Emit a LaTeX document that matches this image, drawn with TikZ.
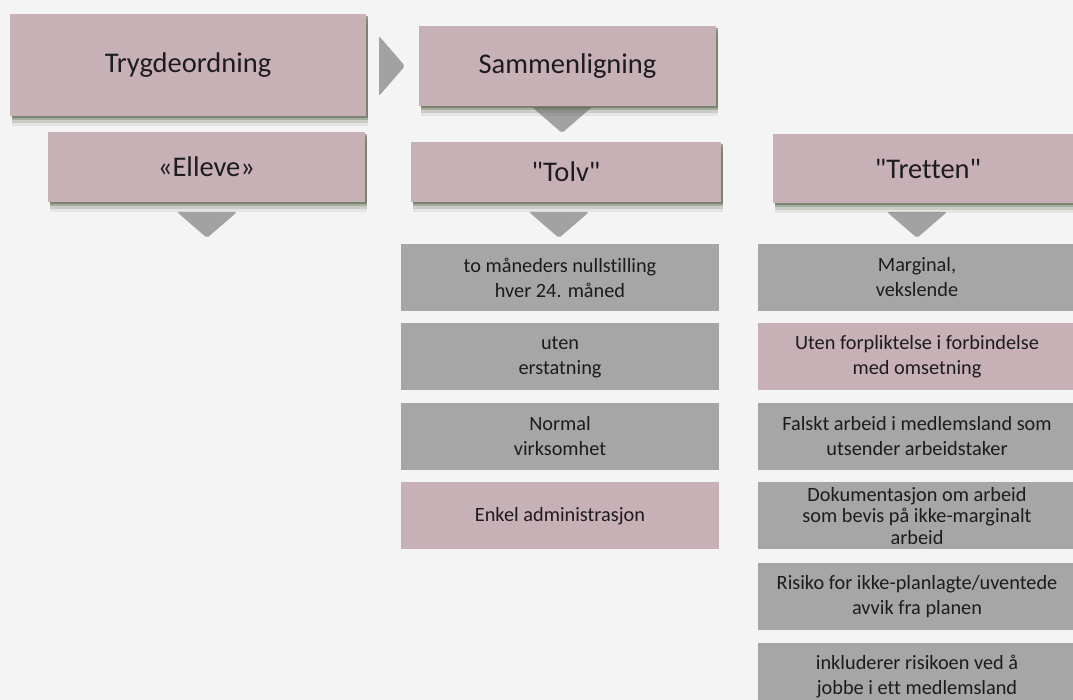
\documentclass[tikz,border=0pt]{standalone}
\usepackage{fontspec}
\setmainfont{Carlito}[Ligatures=NoCommon]
\usepackage{tikz}
\usetikzlibrary{shapes, positioning, calc, shadows}

\definecolor{rosa}{HTML}{C8B0B7}
\definecolor{graa}{HTML}{A6A6A6}
\definecolor{pilgraa}{HTML}{A2A2A2}
\definecolor{bakgrunn}{HTML}{F4F4F4}
\definecolor{tekst}{HTML}{1C1C1C}
\definecolor{skygge}{HTML}{56654A}

\tikzset{
  hode/.style={fill=rosa, text=tekst, inner sep=0pt,
    font=\fontsize{28.5}{34}\selectfont,
    general shadow={shadow xshift=2pt, shadow yshift=-10pt, fill=skygge, opacity=.1, rounded corners=7pt},
    general shadow={shadow xshift=2pt, shadow yshift=-7pt, fill=skygge, opacity=.18, rounded corners=5pt},
    general shadow={shadow xshift=2pt, shadow yshift=-4.5pt, fill=skygge, opacity=.3, rounded corners=3pt},
    general shadow={shadow xshift=1.5pt, shadow yshift=-2pt, fill=skygge, opacity=.55}},
  punkt/.style={fill=graa, text=tekst, align=center, inner sep=0pt,
    minimum width=318pt, minimum height=67pt,
    font=\fontsize{20.3}{25}\selectfont},
  punktrosa/.style={punkt, fill=rosa},
  pilned/.pic={\fill[pilgraa, rounded corners=2pt] (-30,0) -- (30,0) -- (0,26) -- cycle;},
  pilhoyre/.pic={\fill[pilgraa, rounded corners=2pt] (0,-30) -- (0,30) -- (26,0) -- cycle;}
}

\begin{document}
\begin{tikzpicture}[x=1pt, y=-1pt]
    % Background
    \clip (0,0) rectangle (1073,700);
    \fill[bakgrunn] (0,0) rectangle (1073,700);

    % Arrows
    \pic at (379,66) {pilhoyre};
    \pic at (562,107) {pilned};
    \pic at (207,212) {pilned};
    \pic at (559,212) {pilned};
    \pic at (917,212) {pilned};

    % Header boxes
    \node[hode, minimum width=356pt, minimum height=102pt] (trygd) at (188,65) {Trygdeordning};
    \node[hode, minimum width=297pt, minimum height=80pt] (sammen) at (567.5,66) {Sammenligning};
    \node[hode, minimum width=317pt, minimum height=70pt] (elleve) at (206.5,167) {«Elleve»};
    \node[hode, minimum width=310pt, minimum height=60pt] (tolv) at (566,172) {\textquotedbl Tolv\textquotedbl};
    \node[hode, minimum width=310pt, minimum height=69pt] (tretten) at (928,168.5) {\textquotedbl Tretten\textquotedbl};

    % Column "Tolv"
    \node[punkt] (tolv1) at (560,277.5) {to måneders nullstilling\\hver 24. måned};
    \node[punkt, below=12pt of tolv1] (tolv2) {uten\\erstatning};
    \node[punkt, below=12pt of tolv2] (tolv3) {Normal\\virksomhet};
    \node[punktrosa, below=12pt of tolv3] (tolv4) {Enkel administrasjon};

    % Column "Tretten"
    \node[punkt] (tretten1) at (917,277.5) {Marginal,\\vekslende};
    \node[punktrosa, below=12pt of tretten1] (tretten2) {Uten forpliktelse i forbindelse\\med omsetning};
    \node[punkt, below=12pt of tretten2] (tretten3) {Falskt arbeid i medlemsland som\\utsender arbeidstaker};
    \node[punkt, below=12pt of tretten3, font=\fontsize{20.3}{21.5}\selectfont] (tretten4) {Dokumentasjon om arbeid\\som bevis på ikke-marginalt\\arbeid};
    \node[punkt, below=13pt of tretten4] (tretten5) {Risiko for ikke-planlagte/uventede\\avvik fra planen};
    \node[punkt, below=13pt of tretten5] (tretten6) {inkluderer risikoen ved å\\jobbe i ett medlemsland};
\end{tikzpicture}
\end{document}
